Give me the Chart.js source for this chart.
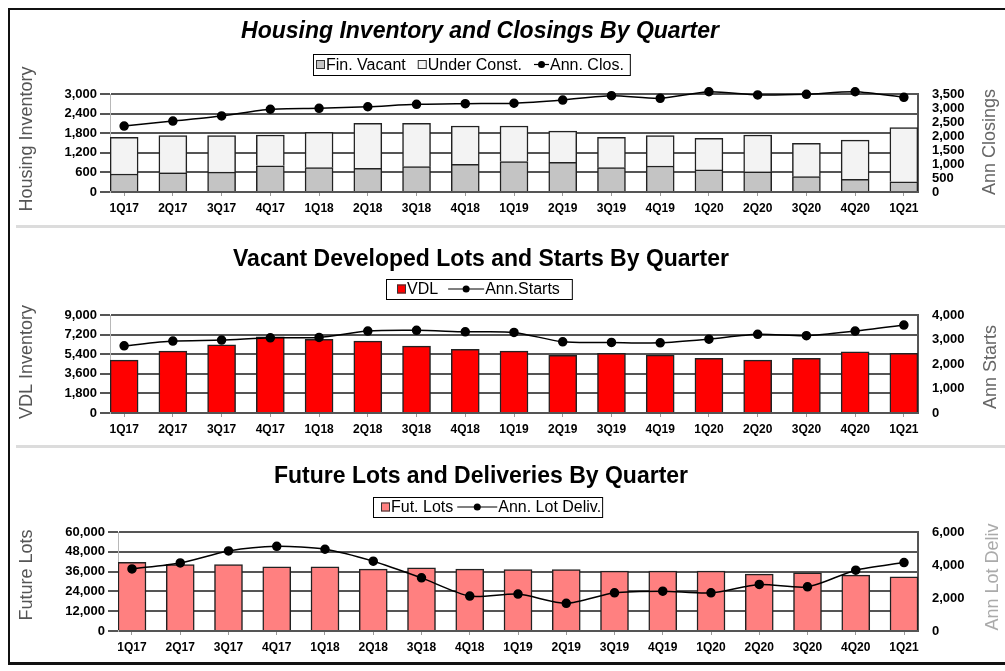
<!DOCTYPE html>
<html>
<head>
<meta charset="utf-8">
<script src="https://cdn.jsdelivr.net/npm/chart.js@4.4.1/dist/chart.umd.min.js"></script>
<style>
  body { margin: 0; background: #fff; overflow: hidden; }
  #page { position: relative; width: 1005px; height: 671px; overflow: hidden; }
  canvas { position: absolute; left: 0; }
  .frame { position: absolute; left: 8px; top: 8px; width: 1020px; height: 657px;
           box-sizing: border-box; border: 2px solid #111; border-bottom-width: 3px; }
  .sep { position: absolute; left: 16px; width: 1000px; height: 3px; background: #dcdcdc; }
</style>
</head>
<body>
<div id="page">
  <canvas id="inv" width="1005" height="226" style="top:0px"></canvas>
  <canvas id="vdl" width="1005" height="220" style="top:226px"></canvas>
  <canvas id="fut" width="1005" height="225" style="top:446px"></canvas>
  <div class="sep" style="top:225px"></div>
  <div class="sep" style="top:445px"></div>
  <div class="frame"></div>
</div>
<script>
// quarters on the x axis
const quarters = ['1Q17','2Q17','3Q17','4Q17','1Q18','2Q18','3Q18','4Q18','1Q19','2Q19','3Q19','4Q19','1Q20','2Q20','3Q20','4Q20','1Q21']

// housing inventory and closings
const finVacant   = [550, 590, 610, 800, 745, 725, 775, 850, 930, 910, 745, 795, 675, 620, 470, 390, 315]
const underConst  = [1125, 1135, 1115, 945, 1085, 1380, 1330, 1170, 1090, 955, 930, 930, 970, 1125, 1020, 1200, 1655]
const annClosings = [2355, 2535, 2715, 2955, 2990, 3045, 3130, 3155, 3170, 3285, 3440, 3345, 3580, 3465, 3490, 3580, 3380]

// vacant developed lots and starts
const vdl       = [4850, 5680, 6260, 7000, 6760, 6600, 6140, 5840, 5680, 5290, 5470, 5310, 5010, 4850, 5010, 5620, 5470]
const annStarts = [2740, 2935, 2975, 3070, 3085, 3345, 3375, 3315, 3290, 2905, 2880, 2865, 3015, 3210, 3155, 3345, 3590]

// future lots and deliveries
const futLots     = [41690, 40300, 40300, 38850, 38850, 37460, 38250, 37460, 37280, 37280, 36250, 36250, 36250, 34440, 35230, 33840, 32810]
const annLotDeliv = [3765, 4125, 4850, 5135, 4955, 4230, 3220, 2115, 2235, 1675, 2315, 2415, 2315, 2820, 2675, 3685, 4150]

const FONT = '"Liberation Sans", Arial, Helvetica, sans-serif'

function pts(arr) {
    return arr.map(function(v, i){ return {x: i, y: v} })
}

// draws title, boxed legend and the axis titles
const panelDecor = {
    id: 'panelDecor',
    afterDraw(chart, args, o) {
        const ctx = chart.ctx
        ctx.save()
        ctx.fillStyle = '#000'
        ctx.font = o.titleFont + ' 23px ' + FONT
        ctx.textAlign = 'center'
        ctx.textBaseline = 'alphabetic'
        ctx.fillText(o.title, o.titleX, o.titleY)

        // legend
        const lg = o.legend
        const cy = lg.y + lg.h / 2
        let x = lg.x + lg.padL
        ctx.font = '16px ' + FONT
        ctx.textAlign = 'left'
        ctx.textBaseline = 'middle'
        chart.data.datasets.forEach(function(ds){
            if (ds.type === 'line') {
                ctx.strokeStyle = '#000'
                ctx.lineWidth = 1.2
                ctx.beginPath()
                ctx.moveTo(x, cy)
                ctx.lineTo(x + lg.lineW, cy)
                ctx.stroke()
                ctx.fillStyle = '#000'
                ctx.beginPath()
                ctx.arc(x + lg.lineW / 2, cy, 3.5, 0, Math.PI * 2)
                ctx.fill()
                x += lg.lineW + 1
            } else {
                ctx.fillStyle = ds.backgroundColor
                ctx.fillRect(x, cy - 4.5, 9, 9)
                ctx.strokeStyle = '#333'
                ctx.lineWidth = 1
                ctx.strokeRect(x + 0.5, cy - 4, 8, 8)
                x += 10
            }
            ctx.fillStyle = '#000'
            ctx.fillText(ds.label, x, cy + 1)
            x += ctx.measureText(ds.label).width + lg.gap
        })
        ctx.strokeStyle = '#000'
        ctx.lineWidth = 1
        ctx.strokeRect(lg.x + 0.5, lg.y + 0.5, x - lg.gap + lg.padR - lg.x, lg.h)

        // axis titles, both read bottom to top
        ctx.font = '18px ' + FONT
        ctx.textAlign = 'center'
        o.axisTitles.forEach(function(t){
            ctx.save()
            ctx.translate(t.x, t.y)
            ctx.rotate(-Math.PI / 2)
            ctx.fillStyle = t.color
            ctx.fillText(t.text, 0, 0)
            ctx.restore()
        })
        ctx.restore()
    }
}

function fmt(v) {
    return Number(v).toLocaleString('en-US')
}

function makeScales(leftW, xH, yMax, yStep, y1Max, y1Step, stacked) {
    return {
        x: {
            type: 'linear',
            offset: false,
            min: -0.29,
            max: 16.29,
            afterFit: function(s){ s.height = xH },
            grid: { offset: false, drawOnChartArea: false, drawTicks: true, tickLength: 4, color: '#999' },
            border: { display: false },
            ticks: {
                stepSize: 1,
                maxTicksLimit: 40,
                includeBounds: false,
                autoSkip: false,
                maxRotation: 0,
                padding: 5,
                color: '#000',
                font: { family: FONT, size: 12, weight: 'bold' },
                callback: function(v){ return quarters[v] || '' }
            }
        },
        y: {
            position: 'left',
            stacked: stacked,
            min: 0,
            max: yMax,
            afterFit: function(s){ s.width = leftW },
            grid: { color: '#555', lineWidth: 2, tickLength: 10 },
            border: { color: '#b8b8b8', width: 1 },
            ticks: {
                stepSize: yStep,
                autoSkip: false,
                padding: 3,
                color: '#000',
                font: { family: FONT, size: 13, weight: 'bold' },
                callback: fmt
            }
        },
        y1: {
            position: 'right',
            min: 0,
            max: y1Max,
            afterFit: function(s){ s.width = 87 },
            grid: { display: false, drawTicks: false },
            border: { color: '#555', width: 2 },
            ticks: {
                stepSize: y1Step,
                autoSkip: false,
                padding: 14,
                color: '#000',
                font: { family: FONT, size: 13, weight: 'bold' },
                callback: fmt
            }
        }
    }
}

function lineSet(label, data) {
    return {
        type: 'line',
        label: label,
        data: pts(data),
        yAxisID: 'y1',
        order: 0,
        borderColor: '#000',
        borderWidth: 1.5,
        backgroundColor: '#000',
        pointRadius: 4,
        pointBackgroundColor: '#000',
        pointBorderColor: '#000',
        tension: 0.25,
        clip: false
    }
}

function barSet(label, data, color, stack) {
    return {
        type: 'bar',
        label: label,
        data: pts(data),
        yAxisID: 'y',
        order: 1,
        stack: stack,
        backgroundColor: color,
        borderColor: '#222',
        borderWidth: 1.5,
        barThickness: 28
    }
}

function renderPanel(id, datasets, scales, padTop, decor) {
    new Chart(document.getElementById(id), {
        data: { datasets: datasets },
        options: {
            responsive: false,
            animation: false,
            layout: { padding: { top: padTop, left: 0, right: 0, bottom: 0 } },
            scales: scales,
            plugins: {
                legend: { display: false },
                tooltip: { enabled: false },
                panelDecor: decor
            }
        },
        plugins: [panelDecor]
    })
}

renderPanel('inv', [
        barSet('Fin. Vacant', finVacant, '#c4c4c4', 'inv'),
        barSet('Under Const.', underConst, '#f3f3f3', 'inv'),
        lineSet('Ann. Clos.', annClosings)
    ],
    makeScales(110, 34, 3000, 600, 3500, 500, true), 94,
    {
        title: 'Housing Inventory and Closings By Quarter', titleFont: 'italic bold', titleX: 480, titleY: 38,
        legend: { x: 313, y: 54, h: 21, padL: 3, padR: 6, gap: 12, lineW: 15 },
        axisTitles: [
            { text: 'Housing Inventory', x: 27, y: 139, color: '#555' },
            { text: 'Ann Closings', x: 990, y: 142, color: '#666' }
        ]
    })

renderPanel('vdl', [
        barSet('VDL', vdl, '#ff0000', 'vdl'),
        lineSet('Ann.Starts', annStarts)
    ],
    makeScales(110, 33, 9000, 1800, 4000, 1000, false), 89,
    {
        title: 'Vacant Developed Lots and Starts By Quarter', titleFont: 'bold', titleX: 481, titleY: 40,
        legend: { x: 386, y: 53, h: 20, padL: 11, padR: 12, gap: 10, lineW: 36 },
        axisTitles: [
            { text: 'VDL Inventory', x: 27, y: 136, color: '#555' },
            { text: 'Ann Starts', x: 991, y: 141, color: '#666' }
        ]
    })

renderPanel('fut', [
        barSet('Fut. Lots', futLots, '#ff8080', 'fut'),
        lineSet('Ann. Lot Deliv.', annLotDeliv)
    ],
    makeScales(118, 40, 60000, 12000, 6000, 2000, false), 86,
    {
        title: 'Future Lots and Deliveries By Quarter', titleFont: 'bold', titleX: 481, titleY: 37,
        legend: { x: 373, y: 51, h: 20, padL: 8, padR: 1, gap: 4, lineW: 40 },
        axisTitles: [
            { text: 'Future Lots', x: 27, y: 129, color: '#555' },
            { text: 'Ann Lot Deliv', x: 993, y: 131, color: '#aaa' }
        ]
    })
</script>
</body>
</html>
